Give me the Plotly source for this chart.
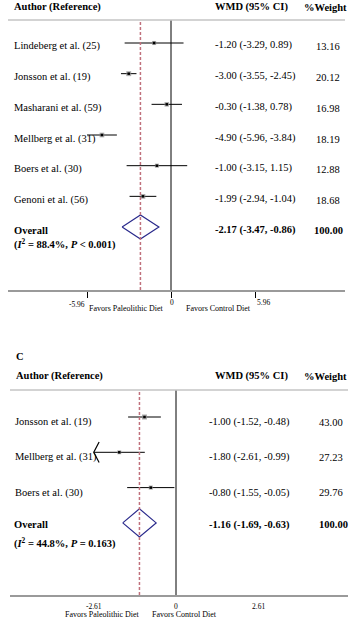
import plotly.graph_objects as go

W, H = 353, 619
FONT = "Liberation Serif"

# ---------------- data ----------------
# Panel B (top)
b_studies = ["Lindeberg et al. (25)", "Jonsson et al. (19)", "Masharani et al. (59)",
             "Mellberg et al. (31)", "Boers et al. (30)", "Genoni et al. (56)"]
b_est = [-1.20, -3.00, -0.30, -4.90, -1.00, -1.99]
b_lo = [-3.29, -3.55, -1.38, -5.96, -3.15, -2.94]
b_hi = [0.89, -2.45, 0.78, -3.84, 1.15, -1.04]
b_wt = [13.16, 20.12, 16.98, 18.19, 12.88, 18.68]
b_overall = [-2.17, -3.47, -0.86]
b_overall_wt = 100.00
b_het = ["88.4%", "&lt; 0.001"]
b_ticks = [-5.96, 0, 5.96]
b_ticklabels = ["-5.96", "0", "5.96"]

# Panel C (bottom)
c_studies = ["Jonsson et al. (19)", "Mellberg et al. (31)", "Boers et al. (30)"]
c_est = [-1.00, -1.80, -0.80]
c_lo = [-1.52, -2.61, -1.55]
c_hi = [-0.48, -0.99, -0.05]
c_wt = [43.00, 27.23, 29.76]
c_overall = [-1.16, -1.69, -0.63]
c_overall_wt = 100.00
c_het = ["44.8%", "= 0.163"]
c_ticks = [-2.61, 0, 2.61]
c_ticklabels = ["-2.61", "0", "2.61"]
c_arrow = [False, True, False]   # CI truncated at axis limit

fig = go.Figure()


def px(x):
    return x / W


def py(y):
    return 1 - y / H


def panel(xa, ya, studies, est, lo, hi, wt, overall, size_fn, diamond_h):
    n = len(studies)
    rows = list(range(n))
    xs, ys = [], []
    for i in rows:
        xs += [lo[i], hi[i], None]
        ys += [i, i, None]
    fig.add_trace(go.Scatter(x=xs, y=ys, mode="lines", xaxis=xa, yaxis=ya,
                             line=dict(color="black", width=1), hoverinfo="skip"))
    fig.add_trace(go.Scatter(x=est, y=rows, mode="markers", xaxis=xa, yaxis=ya,
                             marker=dict(symbol="square", color="#8a8a8a",
                                         size=[size_fn(w) for w in wt], line=dict(width=0)),
                             hoverinfo="skip"))
    fig.add_trace(go.Scatter(x=est, y=rows, mode="markers", xaxis=xa, yaxis=ya,
                             marker=dict(symbol="square", color="black", size=2.5),
                             hoverinfo="skip"))
    r = n
    fig.add_trace(go.Scatter(x=[overall[1], overall[0], overall[2], overall[0], overall[1]],
                             y=[r, r - diamond_h, r, r + diamond_h, r],
                             mode="lines", xaxis=xa, yaxis=ya,
                             line=dict(color="#2a2a8c", width=1.2), hoverinfo="skip"))
    return rows


# ---------------- axes ----------------
bs = 14.094
fig.update_layout(
    xaxis=dict(domain=[px(8), px(345)], range=[(8 - 171) / bs, (345 - 171) / bs],
               anchor="y", showline=True, linecolor="#9a9a9a", linewidth=2,
               ticks="outside", tickvals=b_ticks, ticklen=6, tickcolor="black", tickwidth=1,
               showticklabels=False, showgrid=False, zeroline=False, fixedrange=True),
    yaxis=dict(domain=[py(290), py(20)], range=[(290 - 43) / 30.67, (20 - 43) / 30.67],
               visible=False, fixedrange=True),
)
cs = 31.51
fig.update_layout(
    xaxis2=dict(domain=[px(10), px(348)], range=[(10 - 176) / cs, (348 - 176) / cs],
                anchor="y2", showline=True, linecolor="#9a9a9a", linewidth=2,
                ticks="", showticklabels=False, showgrid=False, zeroline=False, fixedrange=True),
    yaxis2=dict(domain=[py(595), py(390)], range=[(595 - 417) / 35.3, (390 - 417) / 35.3],
                visible=False, fixedrange=True),
)

panel("x", "y", b_studies, b_est, b_lo, b_hi, b_wt, b_overall,
      lambda w: 2.5 + 0.12 * w, 0.39)
panel("x2", "y2", c_studies, c_est, c_lo, c_hi, c_wt, c_overall,
      lambda w: 2.0 + 0.07 * w, 0.40)

# truncated CI arrow (chevron) for panel C
for i, flag in enumerate(c_arrow):
    if flag:
        fig.add_trace(go.Scatter(x=[c_lo[i] + 0.17, c_lo[i], c_lo[i] + 0.17],
                                 y=[i - 0.29, i, i + 0.29], mode="lines",
                                 xaxis="x2", yaxis="y2",
                                 line=dict(color="black", width=1.2), hoverinfo="skip"))

shapes = []
for xr, yr, ov in (("x", "y", b_overall), ("x2", "y2", c_overall)):
    shapes.append(dict(type="line", xref=xr, yref=yr + " domain", x0=0, x1=0, y0=0, y1=1,
                       line=dict(color="black", width=1)))
    shapes.append(dict(type="line", xref=xr, yref=yr + " domain", x0=ov[0], x1=ov[0],
                       y0=0, y1=1, line=dict(color="#c0707c", width=1.5, dash="3px,2px")))
shapes.append(dict(type="line", xref="paper", yref="paper", x0=px(8), x1=px(345),
                   y0=py(20), y1=py(20), line=dict(color="#c4c4c4", width=1.5)))
shapes.append(dict(type="line", xref="paper", yref="paper", x0=px(10), x1=px(348),
                   y0=py(390), y1=py(390), line=dict(color="#c4c4c4", width=1.5)))

ann = []


def txt(x, y, s, size=10.5, anchor="left", xref="paper", yref="paper", yshift=0, xshift=0):
    ann.append(dict(x=x, y=y, xref=xref, yref=yref, text=s, showarrow=False,
                    xanchor=anchor, yanchor="middle", yshift=yshift, xshift=xshift,
                    font=dict(family=FONT, size=size, color="black")))


def fmt(e, l, h):
    return f"{e:.2f} ({l:.2f}, {h:.2f})"


# Panel B texts
txt(px(12), py(7), "<b>Author (Reference)</b>")
txt(px(213), py(7), "<b>WMD (95% CI)</b>")
txt(px(302), py(7), "<b>%Weight</b>")
for i, s in enumerate(b_studies):
    txt(px(12), i, s, yref="y", yshift=-3.5)
    txt(px(213), i, fmt(b_est[i], b_lo[i], b_hi[i]), yref="y", yshift=-2.5)
    txt(px(328), i, f"{b_wt[i]:.2f}", anchor="center", yref="y", yshift=-4)
nb = len(b_studies)
txt(px(12), nb, "<b>Overall</b>", yref="y", yshift=-3)
txt(px(12), nb, f"<b>(<i>I</i><sup>2</sup> = {b_het[0]}, <i>P</i> {b_het[1]})</b>",
    yref="y", yshift=-17)
txt(px(213), nb, "<b>" + fmt(*b_overall) + "</b>", yref="y", yshift=-3)
txt(px(328), nb, f"<b>{b_overall_wt:.2f}</b>", anchor="center", yref="y", yshift=-3)
anchors_b = ["right", "center", "left"]
ys_b = [305, 302, 302]
for v, lab, a, yy in zip(b_ticks, b_ticklabels, anchors_b, ys_b):
    txt(v, py(yy), lab, size=7.5, anchor=a, xref="x", xshift=(1 if a == "center" else 0))
txt(px(166), py(308), "Favors Paleolithic Diet", size=8, anchor="right")
txt(px(184), py(308), "Favors Control Diet", size=8, anchor="left")

# Panel C texts
txt(px(14), py(356), "<b>C</b>", size=10.5)
txt(px(14), py(376), "<b>Author (Reference)</b>")
txt(px(213), py(376), "<b>WMD (95% CI)</b>")
txt(px(302), py(376), "<b>%Weight</b>")
for i, s in enumerate(c_studies):
    txt(px(13), i, s, yref="y2", yshift=-5)
    txt(px(207), i, fmt(c_est[i], c_lo[i], c_hi[i]), yref="y2", yshift=-5)
    txt(px(331), i, f"{c_wt[i]:.2f}", anchor="center", yref="y2", yshift=-5)
nc = len(c_studies)
txt(px(12), nc, "<b>Overall</b>", yref="y2", yshift=-2)
txt(px(12), nc, f"<b>(<i>I</i><sup>2</sup> = {c_het[0]}, <i>P</i> {c_het[1]})</b>",
    yref="y2", yshift=-20)
txt(px(207), nc, "<b>" + fmt(*c_overall) + "</b>", yref="y2", yshift=-2)
txt(px(333), nc, f"<b>{c_overall_wt:.2f}</b>", anchor="center", yref="y2", yshift=-2)
for v, lab in zip(c_ticks, c_ticklabels):
    txt(v, py(606), lab, size=7.5, anchor="center", xref="x2")
txt(px(142), py(614), "Favors Paleolithic Diet", size=8, anchor="right")
txt(px(150), py(614), "Favors Control Diet", size=8, anchor="left")

fig.update_layout(width=W, height=H, margin=dict(l=0, r=0, t=0, b=0),
                  paper_bgcolor="white", plot_bgcolor="white", showlegend=False,
                  shapes=shapes, annotations=ann)

fig.write_html("out.html", config={"displayModeBar": False})
